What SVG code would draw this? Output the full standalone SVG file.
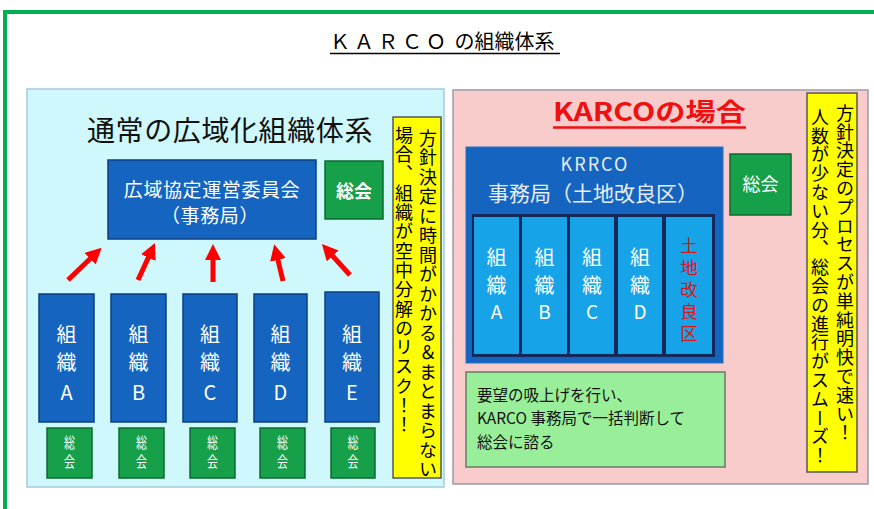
<svg xmlns="http://www.w3.org/2000/svg" width="874" height="509" viewBox="0 0 874 509">
<defs>
<style>
text{font-family:"Noto Sans CJK JP","Noto Sans",sans-serif;}
.w{fill:#ffffff;}
.lw{fill:#e6edf7;}
.blue{fill:#1565c0;stroke:#0d3f80;stroke-width:1.5;}
.grn{fill:#16a04a;stroke:#0d6a30;stroke-width:1.5;}
.cell{fill:#17a3e8;}
.yel{fill:#ffff00;stroke:#555555;stroke-width:1.5;}
.vt{writing-mode:vertical-rl;font-size:18px;fill:#000;}
.arrow{stroke:#ff0000;stroke-width:5;fill:none;marker-end:url(#ah);}
.org{font-size:20px;fill:#fff;text-anchor:middle;}
.sm{font-size:15px;fill:#fff;}
.cl{font-size:20px;fill:#fff;text-anchor:middle;}
</style>
<marker id="ah" markerUnits="userSpaceOnUse" markerWidth="16" markerHeight="16" refX="4" refY="8" orient="auto">
<path d="M0,0 L16,8 L0,16 z" fill="#ff0000"/>
</marker>
</defs>
<rect x="0" y="0" width="874" height="509" fill="#ffffff"/>
<rect id="frame" x="5" y="12" width="900" height="600" fill="none" stroke="#00b050" stroke-width="4"/>
<g id="title">
<text x="330" y="49" font-size="20" fill="#000"><tspan letter-spacing="4">ＫＡＲＣＯ</tspan><tspan> の組織体系</tspan></text>
<line x1="330" y1="53.5" x2="560" y2="53.5" stroke="#000" stroke-width="1.3"/>
</g>
<g id="left-panel">
<rect x="27" y="89" width="417" height="398" fill="#cff8fc" stroke="#a8c8e0" stroke-width="1.5"/>
<text x="230" y="141" font-size="28" text-anchor="middle" fill="#111" letter-spacing="0.6">通常の広域化組織体系</text>
</g>
<g id="committee">
<rect class="blue" x="108" y="160" width="208" height="79"/>
<text class="w" font-size="19" text-anchor="middle" letter-spacing="0.6"><tspan x="212" y="196.5">広域協定運営委員会</tspan><tspan x="210" y="223">（事務局）</tspan></text>
</g>
<g id="general-left">
<rect class="grn" x="325" y="161" width="58" height="58"/>
<text class="w" x="354" y="198" font-size="18" text-anchor="middle" font-weight="bold">総会</text>
</g>
<g id="note-left">
<rect class="yel" x="393" y="117" width="48" height="361"/>
<text class="vt" x="428" y="129" letter-spacing="1.5">方針決定に時間がかかる＆まとまらない</text>
<text class="vt" x="404" y="126" letter-spacing="1.3">場合、組織が空中分解のリスク！！</text>
</g>
<g id="org-a">
<rect class="blue" x="39" y="294" width="55" height="128"/>
<text class="org"><tspan x="66.5" y="342">組</tspan><tspan x="66.5" y="370">織</tspan><tspan x="66.5" y="400">A</tspan></text>
</g>
<g id="org-b">
<rect class="blue" x="111" y="294" width="55" height="128"/>
<text class="org"><tspan x="138.5" y="342">組</tspan><tspan x="138.5" y="370">織</tspan><tspan x="138.5" y="400">B</tspan></text>
</g>
<g id="org-c">
<rect class="blue" x="183" y="294" width="54" height="128"/>
<text class="org"><tspan x="210" y="342">組</tspan><tspan x="210" y="370">織</tspan><tspan x="210" y="400">C</tspan></text>
</g>
<g id="org-d">
<rect class="blue" x="254" y="294" width="53" height="128"/>
<text class="org"><tspan x="280.5" y="342">組</tspan><tspan x="280.5" y="370">織</tspan><tspan x="280.5" y="400">D</tspan></text>
</g>
<g id="org-e">
<rect class="blue" x="325" y="292" width="54" height="130"/>
<text class="org"><tspan x="352" y="342">組</tspan><tspan x="352" y="370">織</tspan><tspan x="352" y="400">E</tspan></text>
</g>
<g id="gen-a">
<rect class="grn" x="47" y="428" width="45" height="50"/>
<text class="sm" x="64" y="448" textLength="11" lengthAdjust="spacingAndGlyphs">総</text>
<text class="sm" x="64" y="467" textLength="11" lengthAdjust="spacingAndGlyphs">会</text>
</g>
<g id="gen-b">
<rect class="grn" x="119" y="428" width="45" height="50"/>
<text class="sm" x="136" y="448" textLength="11" lengthAdjust="spacingAndGlyphs">総</text>
<text class="sm" x="136" y="467" textLength="11" lengthAdjust="spacingAndGlyphs">会</text>
</g>
<g id="gen-c">
<rect class="grn" x="190" y="428" width="45" height="50"/>
<text class="sm" x="207" y="448" textLength="11" lengthAdjust="spacingAndGlyphs">総</text>
<text class="sm" x="207" y="467" textLength="11" lengthAdjust="spacingAndGlyphs">会</text>
</g>
<g id="gen-d">
<rect class="grn" x="260" y="428" width="45" height="50"/>
<text class="sm" x="277" y="448" textLength="11" lengthAdjust="spacingAndGlyphs">総</text>
<text class="sm" x="277" y="467" textLength="11" lengthAdjust="spacingAndGlyphs">会</text>
</g>
<g id="gen-e">
<rect class="grn" x="331" y="428" width="44" height="50"/>
<text class="sm" x="347.5" y="448" textLength="11" lengthAdjust="spacingAndGlyphs">総</text>
<text class="sm" x="347.5" y="467" textLength="11" lengthAdjust="spacingAndGlyphs">会</text>
</g>
<g id="connectors">
<line class="arrow" x1="68" y1="280" x2="93" y2="256"/>
<line class="arrow" x1="138" y1="280" x2="150" y2="254"/>
<line class="arrow" x1="213" y1="282" x2="213" y2="256"/>
<line class="arrow" x1="283" y1="281" x2="277" y2="256"/>
<line class="arrow" x1="350" y1="275" x2="330" y2="253"/>
</g>
<g id="right-panel">
<rect x="453" y="90" width="415" height="394" fill="#f9cccc" stroke="#9a9aaa" stroke-width="1.5"/>
<text x="553" y="121" font-size="25" font-weight="bold" fill="#ee1111" textLength="193" lengthAdjust="spacingAndGlyphs">KARCOの場合</text>
<line x1="553" y1="127.5" x2="746" y2="127.5" stroke="#ee1111" stroke-width="2.5"/>
</g>
<g id="office">
<rect x="466" y="147" width="257" height="216" fill="#1565c0" stroke="#2a70c0" stroke-width="1"/>
<text class="lw" text-anchor="middle"><tspan x="595" y="171" font-size="18" letter-spacing="2">KRRCO</tspan><tspan x="593" y="201" font-size="21">事務局（土地改良区）</tspan></text>
<rect x="472" y="214" width="243" height="143" fill="#14285a"/>
</g>
<g id="cell-a">
<rect class="cell" x="474" y="217" width="45" height="137"/>
<text class="cl"><tspan x="496.5" y="265">組</tspan><tspan x="496.5" y="293">織</tspan><tspan x="496.5" y="319" font-size="19">A</tspan></text>
</g>
<g id="cell-b">
<rect class="cell" x="522" y="217" width="45" height="137"/>
<text class="cl"><tspan x="544.5" y="265">組</tspan><tspan x="544.5" y="293">織</tspan><tspan x="544.5" y="319" font-size="19">B</tspan></text>
</g>
<g id="cell-c">
<rect class="cell" x="570" y="217" width="44" height="137"/>
<text class="cl"><tspan x="592" y="265">組</tspan><tspan x="592" y="293">織</tspan><tspan x="592" y="319" font-size="19">C</tspan></text>
</g>
<g id="cell-d">
<rect class="cell" x="618" y="217" width="44" height="137"/>
<text class="cl"><tspan x="640" y="265">組</tspan><tspan x="640" y="293">織</tspan><tspan x="640" y="319" font-size="19">D</tspan></text>
</g>
<g id="cell-land">
<rect class="cell" x="666" y="217" width="46" height="137"/>
<text x="689" y="237" font-size="17.5" fill="#d81818" style="writing-mode:vertical-rl" letter-spacing="4.5">土地改良区</text>
</g>
<g id="general-right">
<rect class="grn" x="730" y="154" width="61" height="61"/>
<text class="w" x="760.5" y="191" font-size="18" text-anchor="middle">総会</text>
</g>
<g id="note-right">
<rect class="yel" x="807" y="93" width="50" height="379"/>
<text class="vt" x="845" y="104" letter-spacing="0.8">方針決定のプロセスが単純明快で速い！</text>
<text class="vt" x="820" y="108" letter-spacing="0.8">人数が少ない分、総会の進行がスムーズ！</text>
</g>
<g id="summary">
<rect x="466" y="372" width="259" height="95" fill="#99ef99" stroke="#6a7a6a" stroke-width="1.5"/>
<text font-size="15.5" fill="#111"><tspan x="477" y="401">要望の吸上げを行い、</tspan><tspan x="477" y="424">KARCO 事務局で一括判断して</tspan><tspan x="477" y="448">総会に諮る</tspan></text>
</g>
</svg>
